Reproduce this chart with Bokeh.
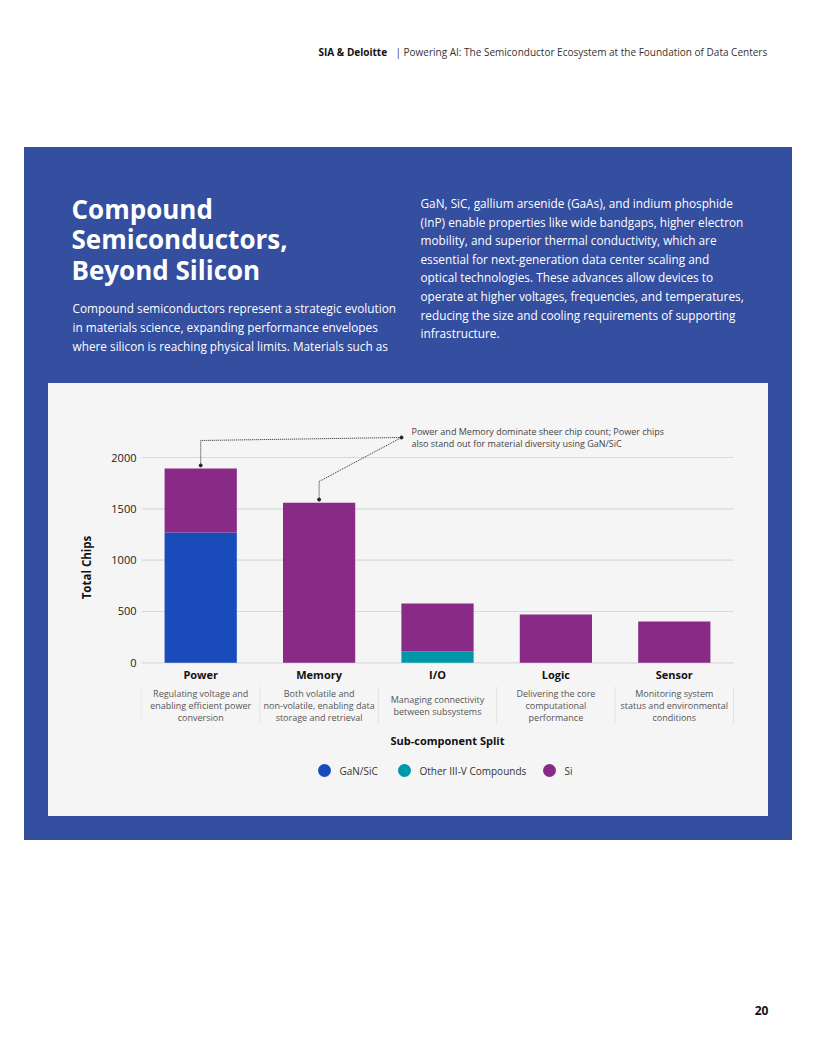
from bokeh.plotting import figure
from bokeh.layouts import column, row
from bokeh.models import Range1d, FixedTicker, ColumnDataSource
from bokeh.core.properties import value
from bokeh.embed import file_html
from bokeh.resources import INLINE

# ---------------- data ----------------
categories = ["Power", "Memory", "I/O", "Logic", "Sensor"]
descriptions = [
    ["Regulating voltage and", "enabling efficient power", "conversion"],
    ["Both volatile and", "non-volatile, enabling data", "storage and retrieval"],
    ["Managing connectivity", "between subsystems"],
    ["Delivering the core", "computational", "performance"],
    ["Monitoring system", "status and environmental", "conditions"],
]
series = ["GaN/SiC", "Other III-V Compounds", "Si"]
gan_sic = [1270, 0, 0, 0, 0]
other_iiiv = [0, 0, 110, 0, 0]
si = [623, 1560, 468, 470, 403]
y_ticks = [0, 500, 1000, 1500, 2000]
annotation_lines = ["Power and Memory dominate sheer chip count; Power chips",
                    "also stand out for material diversity using GaN/SiC"]

header_bold = "SIA & Deloitte"
header_rest = "|  Powering AI: The Semiconductor Ecosystem at the Foundation of Data Centers"
title_lines = ["Compound", "Semiconductors,", "Beyond Silicon"]
para1 = ["Compound semiconductors represent a strategic evolution",
         "in materials science, expanding performance envelopes",
         "where silicon is reaching physical limits. Materials such as"]
para2 = ["GaN, SiC, gallium arsenide (GaAs), and indium phosphide",
         "(InP) enable properties like wide bandgaps, higher electron",
         "mobility, and superior thermal conductivity, which are",
         "essential for next-generation data center scaling and",
         "optical technologies. These advances allow devices to",
         "operate at higher voltages, frequencies, and temperatures,",
         "reducing the size and cooling requirements of supporting",
         "infrastructure."]
page_number = "20"

# ---------------- styles ----------------
FONT = "Open Sans"
BLUE_PANEL = "#344ea0"
CHART_BG = "#f5f5f5"
COLORS = ["#1a4bbb", "#0097a8", "#892a87"]
W = 816
BAND = ("linear-gradient(to right, white 24px, %s 24px, %s 792px, white 792px)"
        % (BLUE_PANEL, BLUE_PANEL))


def page_fig(w, h, css):
    # transparent canvas; the page colours come from the CSS background
    p = figure(width=w, height=h, x_range=Range1d(0, w), y_range=Range1d(h, 0),
               x_axis_location=None, y_axis_location=None, toolbar_location=None,
               output_backend="svg", min_border=0, outline_line_color=None,
               background_fill_alpha=0, border_fill_alpha=0,
               styles={"background": css})
    p.grid.visible = False
    return p


def txt(p, x, y, t, size, color, style="normal", align="left", baseline="middle"):
    p.text(x=[x], y=[y], text=[t], text_font=value(FONT), text_font_size=size,
           text_color=color, text_font_style=style, text_align=align,
           text_baseline=baseline)


# ---------------- top part ----------------
top = page_fig(W, 383, BAND + " left bottom / 100% 236px no-repeat, white")
txt(top, 318, 51, header_bold, "10px", "#111111", "bold")
txt(top, 395, 51, header_rest, "10px", "#333333")
for i, t in enumerate(title_lines):
    txt(top, 71, 208 + i * 30.5, t, "26px", "white", "bold")
for i, t in enumerate(para1):
    txt(top, 72, 307.5 + i * 18.8, t, "11.8px", "white")
for i, t in enumerate(para2):
    txt(top, 420, 202.5 + i * 18.6, t, "11.8px", "white")

# ---------------- side strips ----------------
left = page_fig(48, 433, "linear-gradient(to right, white 24px, %s 24px)" % BLUE_PANEL)
right = page_fig(48, 433, "linear-gradient(to right, %s 24px, white 24px)" % BLUE_PANEL)

# ---------------- chart ----------------
CH_W, CH_H = 720, 368     # chart figure (legend strip below it)
LEG_H = 433 - CH_H
BORDER_L = 93
PX_X = 118.4            # pixels per category
PX_Y = 0.10265          # pixels per chip
ZERO_FROM_TOP = 279.3   # pixel of value 0 from top of chart box
CH_TOP = 383            # page y of chart box top
CH_LEFT = 48

frame_w = CH_W - BORDER_L
x_start = -0.5
x_end = x_start + frame_w / PX_X
y_end = ZERO_FROM_TOP / PX_Y
y_start = -(CH_H - ZERO_FROM_TOP) / PX_Y


def dy(page_y):
    """page pixel y -> data value"""
    return (CH_TOP + ZERO_FROM_TOP - page_y) / PX_Y


def dx(page_x):
    """page pixel x -> data x"""
    return x_start + (page_x - CH_LEFT - BORDER_L) / PX_X


xr = Range1d(x_start, x_end)
p = figure(width=CH_W, height=CH_H, x_range=xr,
           y_range=Range1d(y_start, y_end), x_axis_location=None,
           toolbar_location=None, output_backend="svg", min_border=0,
           min_border_left=BORDER_L, outline_line_color=None,
           background_fill_color=CHART_BG, border_fill_color=CHART_BG,
           styles={"background": CHART_BG})
p.grid.visible = False
yax = p.yaxis[0]
yax.ticker = FixedTicker(ticks=y_ticks)
yax.axis_line_color = None
yax.major_tick_line_color = None
yax.minor_tick_line_color = None
yax.major_tick_out = 0
yax.major_tick_in = 0
yax.major_label_standoff = 5
yax.major_label_text_font = FONT
yax.major_label_text_font_size = "11px"
yax.major_label_text_color = "#1a1a1a"
yax.axis_label = "Total Chips"
yax.axis_label_text_font = FONT
yax.axis_label_text_font_size = "11.5px"
yax.axis_label_text_font_style = "bold"
yax.axis_label_text_color = "#111111"
yax.axis_label_standoff = 14

n = len(categories)
xs = list(range(n))

# gridlines
p.segment(x0=[-0.5] * len(y_ticks), x1=[n - 0.5] * len(y_ticks), y0=y_ticks, y1=y_ticks,
          line_color="#d9d9d9", line_width=1.2)

src = ColumnDataSource(dict(x=xs, gan=gan_sic, other=other_iiiv, si=si))
p.vbar_stack(["gan", "other", "si"], x="x", width=0.61, color=COLORS,
             line_color=None, source=src)

totals = [a + b + c for a, b, c in zip(gan_sic, other_iiiv, si)]

# leader lines for annotation
end_x, end_y = dx(401), dy(437)
off = 30
p.line(x=[0, 0, end_x], y=[totals[0] + off, dy(440), end_y], line_color="#222222",
       line_width=1, line_dash="1 1")
p.line(x=[1, 1, end_x], y=[totals[1] + off, dy(481), end_y], line_color="#222222",
       line_width=1, line_dash="1 1")
p.scatter(x=[0, 1, end_x], y=[totals[0] + off, totals[1] + off, end_y], size=3,
          color="#222222")
for i, t in enumerate(annotation_lines):
    p.text(x=[dx(411)], y=[dy(431 + i * 12)], text=[t], text_font=value(FONT),
           text_font_size="9px", text_color="#444444", text_baseline="middle")

# category labels
p.text(x=xs, y=[dy(673.5)] * n, text=categories, text_font=value(FONT),
       text_font_size="11px", text_font_style="bold", text_color="#111111",
       text_align="center", text_baseline="middle")

# descriptions
dxs, dys, dts = [], [], []
for i, lines in enumerate(descriptions):
    k = len(lines)
    for j, t in enumerate(lines):
        dxs.append(i)
        dys.append(dy(705 + (j - (k - 1) / 2) * 12.4))
        dts.append(t)
p.text(x=dxs, y=dys, text=dts, text_font=value(FONT), text_font_size="9px",
       text_color="#555555", text_align="center", text_baseline="middle")

# separators
sep_x = [i - 0.5 for i in range(n + 1)]
p.segment(x0=sep_x, x1=sep_x, y0=[dy(686)] * len(sep_x), y1=[dy(723)] * len(sep_x),
          line_color="#e3e3e3", line_width=1)

# x-axis title
p.text(x=[dx(447)], y=[dy(740)], text=["Sub-component Split"], text_font=value(FONT),
       text_font_size="11px", text_font_style="bold", text_color="#111111",
       text_align="center", text_baseline="middle")

# ---------------- legend strip (shares the chart's x scale) ----------------
LEG_TOP = CH_TOP + CH_H
leg = figure(width=CH_W, height=LEG_H, x_range=xr, y_range=Range1d(LEG_H, 0),
             x_axis_location=None, y_axis_location=None, toolbar_location=None,
             output_backend="svg", min_border=0, min_border_left=BORDER_L,
             outline_line_color=None, background_fill_color=CHART_BG,
             border_fill_color=CHART_BG, styles={"background": CHART_BG})
leg.grid.visible = False
leg_px = [324, 404, 549]
leg.scatter(x=[dx(v) for v in leg_px], y=[770 - LEG_TOP] * 3, size=13,
            color=COLORS, line_color=None)
leg.text(x=[dx(v + 15) for v in leg_px], y=[770 - LEG_TOP] * 3, text=series,
         text_font=value(FONT), text_font_size="10px", text_color="#333333",
         text_baseline="middle")

# ---------------- bottom ----------------
bottom = page_fig(W, 1056 - 816, BAND + " left top / 100% 24px no-repeat, white")
txt(bottom, 761, 1010 - 816, page_number, "12px", "#111111", "bold", align="center")

mid = row(left, column(p, leg, spacing=0, styles={"background": CHART_BG}), right,
          spacing=0, styles={"background": BAND})
layout = column(top, mid, bottom, spacing=0,
                styles={"background": BAND + " left 147px / 100% 693px no-repeat, white"})
open("out.html", "w").write(file_html(layout, INLINE))
